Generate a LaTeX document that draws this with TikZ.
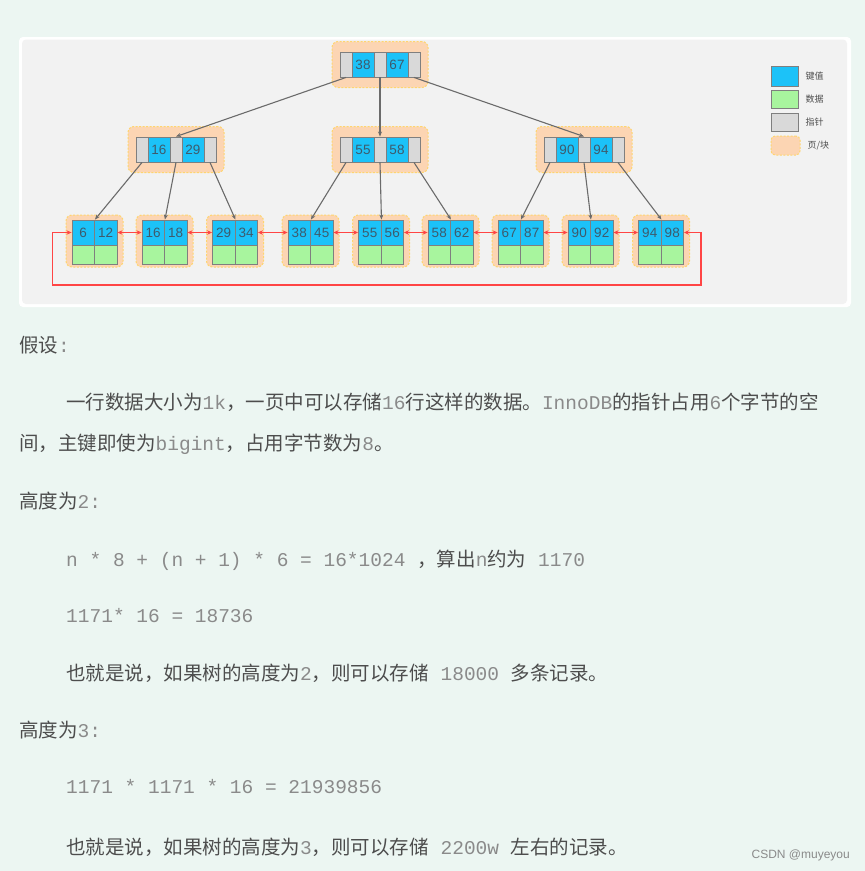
\documentclass[tikz,border=0pt]{standalone}
\usepackage{fontspec}
\setmainfont{Liberation Sans}
\setmonofont{Liberation Mono}
\newfontfamily\cjk{Noto Sans CJK SC}
\usepackage{tikz}
\usetikzlibrary{positioning, arrows.meta, calc}
\usepackage{xcolor}
\definecolor{btFondo}{HTML}{ECF6F2}
\definecolor{btLienzo}{HTML}{F2F2F2}
\definecolor{btClave}{HTML}{1CC2F8}
\definecolor{btDato}{HTML}{A8F59E}
\definecolor{btPuntero}{HTML}{D9D9D9}
\definecolor{btPagina}{HTML}{FCD5B3}
\definecolor{btPaginaBorde}{HTML}{FFD56E}
\definecolor{btBorde}{HTML}{7F7F7F}
\definecolor{btNumero}{HTML}{3E5A6C}
\definecolor{btFlecha}{HTML}{6B6B6B}
\definecolor{btEnlace}{HTML}{FF4545}
\definecolor{btTexto}{HTML}{4D4D4D}
\definecolor{btCodigo}{HTML}{8A8A8A}
\newcommand{\codigo}[1]{{\ttfamily\color{btCodigo}\relax#1}}

\begin{document}
\begin{tikzpicture}[x=1pt, y=-1pt,
    celda/.style={draw=btBorde, line width=0.9pt, inner sep=0pt, minimum height=25pt,
      font=\fontsize{13.5}{14}\selectfont, text=btNumero},
    clave/.style={celda, fill=btClave, minimum width=22pt},
    puntero/.style={celda, fill=btPuntero, minimum width=12pt},
    dato/.style={celda, fill=btDato, minimum width=22.5pt, minimum height=19pt},
    pagina/.style={draw=btPaginaBorde, fill=btPagina, dash pattern=on 2pt off 1.5pt,
      line width=1pt, rounded corners=6pt, inner sep=0pt},
    flecha/.style={draw=btFlecha, line width=1.1pt, -{Stealth[length=5pt, width=4pt]}},
    enlace/.style={draw=btEnlace, line width=1.4pt,
      {Stealth[length=5pt, width=4.5pt]}-{Stealth[length=5pt, width=4.5pt]}},
    leyenda/.style={inner sep=0pt, text=btTexto, font=\cjk\fontsize{9}{9}\selectfont},
    texto/.style={anchor=base west, inner sep=0pt, text=btTexto, font=\cjk\fontsize{19.5}{24}\selectfont}]
        % Fondo y lienzo del arbol
        \fill[btFondo] (0,0) rectangle (865,871);
        \useasboundingbox (0,0) rectangle (865,871);
        \fill[white, rounded corners=4pt] (19,37) rectangle (851,307);
        \fill[btLienzo, rounded corners=4pt] (22,39.5) rectangle (847,304);
        % Nodos internos (nombre, centro, claves)
        \foreach \nombre/\cx/\cy/\ka/\kb in {%
          raiz/380/64.5/38/67,
          izq/176/149.5/16/29,
          cen/380/149.5/55/58,
          der/584/149.5/90/94%
        } {
          \node[pagina, minimum width=96pt, minimum height=46pt] (\nombre) at (\cx,\cy) {};
          \node[puntero] (\nombre-p1) at (\cx-34,\cy) {};
          \node[clave]   (\nombre-k1) at (\cx-17,\cy) {\ka};
          \node[puntero] (\nombre-p2) at (\cx,\cy) {};
          \node[clave]   (\nombre-k2) at (\cx+17,\cy) {\kb};
          \node[puntero] (\nombre-p3) at (\cx+34,\cy) {};
        }
        % Hojas con claves y datos
        \foreach \nombre/\cx/\ka/\kb in {%
          h1/94.5/6/12, h2/164.5/16/18, h3/235/29/34,
          h4/310.5/38/45, h5/381/55/56, h6/450.5/58/62,
          h7/520.5/67/87, h8/590.5/90/92, h9/661/94/98%
        } {
          \node[pagina, minimum width=57pt, minimum height=52pt] (\nombre) at (\cx,241) {};
          \node[clave, minimum width=22.5pt] (\nombre-k1) at (\cx-11.25,232.5) {\ka};
          \node[clave, minimum width=22.5pt] (\nombre-k2) at (\cx+11.25,232.5) {\kb};
          \node[dato] (\nombre-d1) at (\cx-11.25,254.5) {};
          \node[dato] (\nombre-d2) at (\cx+11.25,254.5) {};
        }
        % Punteros
        \foreach \a/\b in {raiz-p1/izq, raiz-p2/cen, raiz-p3/der}
          \draw[flecha] (\a.south) -- (\b-p2.north);
        \foreach \a/\b in {izq-p1/h1, izq-p2/h2, izq-p3/h3, cen-p1/h4, cen-p2/h5,
                           cen-p3/h6, der-p1/h7, der-p2/h8, der-p3/h9}
          \draw[flecha] (\a.south) -- (\b-k1.north east);
        % Lista enlazada de hojas
        \foreach \a/\b in {h1/h2, h2/h3, h3/h4, h4/h5, h5/h6, h6/h7, h7/h8, h8/h9}
          \draw[enlace] (\a-k2.east) -- (\b-k1.west);
        \draw[enlace] (h9-k2.east) -- ++(17,0) -- ++(0,52.5) -| ([xshift=-19pt]h1-k1.west) -- (h1-k1.west);
        % Leyenda
        \node[clave, minimum width=27pt, minimum height=20pt] (leyClave) at (784.5,76) {};
        \node[dato, minimum width=27pt, minimum height=18pt] (leyDato) at (784.5,99) {};
        \node[puntero, minimum width=27pt, minimum height=18pt] (leyPuntero) at (784.5,122) {};
        \node[pagina, minimum width=29pt, minimum height=19pt, rounded corners=4pt] (leyPagina) at (785.5,145.5) {};
        \node[leyenda, right=7pt of leyClave] {键值};
        \node[leyenda, right=7pt of leyDato] {数据};
        \node[leyenda, right=7pt of leyPuntero] {指针};
        \node[leyenda, right=7pt of leyPagina] {页/块};
        % Texto explicativo
        \node[texto] (supuesto) at (19,352.5) {假设\codigo{:}};
        \node[texto] (linea1) at (66,409.5) {一行数据大小为\codigo{1k}，一页中可以存储\codigo{16}行这样的数据。\codigo{InnoDB}的指针占用\codigo{6}个字节的空};
        \node[texto] (linea2) at (19,450.5) {间，主键即使为\codigo{bigint}，占用字节数为\codigo{8}。};
        \node[texto] (altura2) at (19,508) {高度为\codigo{2:}};
        \node[texto] (calculo1) at (66,566.5) {\codigo{n * 8 + (n + 1) * 6 = 16*1024 }，算出\codigo{n}约为\codigo{ 1170}};
        \node[texto] (calculo2) at (66,622) {\codigo{1171* 16 = 18736}};
        \node[texto] (conclusion2) at (66,680.5) {也就是说，如果树的高度为\codigo{2}，则可以存储\codigo{ 18000 }多条记录。};
        \node[texto] (altura3) at (19,737.5) {高度为\codigo{3:}};
        \node[texto] (calculo3) at (66,793.5) {\codigo{1171 * 1171 * 16 = 21939856}};
        \node[texto] (conclusion3) at (66,854.5) {也就是说，如果树的高度为\codigo{3}，则可以存储\codigo{ 2200w }左右的记录。};
        \node[anchor=base east, inner sep=0pt, text=btCodigo, font=\fontsize{12}{12}\selectfont] (marca) at (850,858.5) {CSDN @muyeyou};
\end{tikzpicture}
\end{document}
